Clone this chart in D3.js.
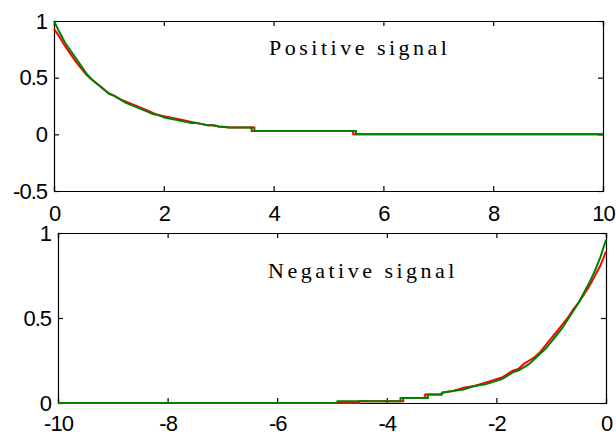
<!DOCTYPE html>
<html>
<head>
<meta charset="utf-8">
<script src="https://cdn.jsdelivr.net/npm/d3@7"></script>
<style>
  body { margin: 0; background: #fff; }
  svg { display: block; }
  .tick text { font-family: "Liberation Sans", Arial, sans-serif; font-size: 22px; letter-spacing: -1px; fill: #000; }
  .title { font-family: "Liberation Serif", "Times New Roman", serif; font-size: 22px; letter-spacing: 3.5px; }
</style>
</head>
<body>
<div id="chart"></div>
<script>
// -------------------- DATA --------------------
// top panel: positive signal (x, y)
const posX = [0,0.1,0.2,0.3,0.4,0.5,0.6,0.7,0.8,0.9,1.0,1.1,1.2,1.3,1.4,1.5,1.6,1.7,1.8,1.9,2.0,2.1,2.2,2.3,2.4,2.5,2.6,2.7,2.8,2.9,3.0,3.2];
const posGreen = [1.00,0.90,0.81,0.74,0.67,0.60,0.53,0.48,0.44,0.40,0.36,0.34,0.31,0.28,0.26,0.24,0.22,0.20,0.18,0.17,0.15,0.14,0.13,0.12,0.11,0.10,0.10,0.09,0.08,0.08,0.07,0.06];
const posRed   = [0.93,0.86,0.78,0.71,0.64,0.58,0.52,0.48,0.44,0.40,0.36,0.34,0.31,0.29,0.27,0.25,0.23,0.21,0.19,0.17,0.16,0.15,0.14,0.13,0.12,0.11,0.10,0.09,0.08,0.08,0.07,0.06];
// flat tail with steps
const posGreenTail = [[3.6,0.03],[5.5,0.0],[10,0.0]];
const posRedTail   = [[3.65,0.03],[5.45,0.0],[10,0.0]];

// bottom panel: negative signal, flat start with steps then rising
const negGreenHeadX = [-10,-4.9,-3.75,-3.25];
const negGreenHead  = [0.00,0.01,0.03,0.05];
const negRedHeadX = [-10,-4.5,-3.7,-3.3];
const negRedHead  = [0.00,0.01,0.03,0.05];

const negX = [-3.0,-2.8,-2.6,-2.4,-2.2,-2.0,-1.9,-1.8,-1.7,-1.6,-1.5,-1.4,-1.3,-1.2,-1.1,-1.0,-0.9,-0.8,-0.7,-0.6,-0.5,-0.4,-0.3,-0.2,-0.1,-0.05,0];
const negGreen = [0.06,0.07,0.08,0.10,0.11,0.13,0.14,0.16,0.18,0.19,0.21,0.23,0.26,0.29,0.32,0.36,0.40,0.44,0.49,0.54,0.59,0.65,0.71,0.78,0.86,0.91,0.96];
const negRed   = [0.06,0.07,0.09,0.10,0.12,0.14,0.15,0.17,0.19,0.20,0.23,0.25,0.27,0.30,0.34,0.38,0.42,0.46,0.50,0.55,0.59,0.64,0.69,0.75,0.81,0.85,0.89];

const topXTicks = [0,2,4,6,8,10];
const topYTicks = [-0.5,0,0.5,1];
const botXTicks = [-10,-8,-6,-4,-2,0];
const botYTicks = [0,0.5,1];

const W = 616, H = 434;

const svg = d3.select("#chart").append("svg")
  .attr("width", W).attr("height", H);

function panel(opt) {
  const x = d3.scaleLinear().domain(opt.xDomain).range([opt.left, opt.right]);
  const y = d3.scaleLinear().domain(opt.yDomain).range([opt.bottom, opt.top]);
  const g = svg.append("g");
  const tl = 5;
  const fmt = d => String(d);

  // ticks point inwards, labels only bottom/left
  g.append("g").attr("transform", `translate(0,${opt.bottom})`)
    .call(d3.axisBottom(x).tickValues(opt.xTicks).tickSize(-tl).tickPadding(opt.xPad).tickFormat(fmt));
  g.append("g").attr("transform", `translate(0,${opt.top})`)
    .call(d3.axisTop(x).tickValues(opt.xTicks).tickSize(-tl).tickFormat(""));
  g.append("g").attr("transform", `translate(${opt.left},0)`)
    .call(d3.axisLeft(y).tickValues(opt.yTicks).tickSize(-tl).tickPadding(7).tickFormat(fmt));
  g.append("g").attr("transform", `translate(${opt.right},0)`)
    .call(d3.axisRight(y).tickValues(opt.yTicks).tickSize(-tl).tickFormat(""));
  g.selectAll(".domain").attr("stroke", "#000").attr("stroke-width", 1.2);
  g.selectAll(".tick line").attr("stroke", "#000").attr("stroke-width", 1.2);

  const smooth = d3.line().x(d => x(d[0])).y(d => y(d[1]));
  const stairs = d3.line().x(d => x(d[0])).y(d => y(d[1])).curve(d3.curveStepAfter);
  opt.series.forEach(s => {
    s.parts.forEach(p => {
      g.append("path").datum(p.pts)
        .attr("fill", "none")
        .attr("stroke", s.color)
        .attr("stroke-width", 2)
        .attr("d", p.step ? stairs : smooth);
    });
  });

  g.append("text").attr("class", "title")
    .attr("x", opt.titleX).attr("y", opt.titleY)
    .text(opt.title);
}

const zip = (xs, ys) => xs.map((v, i) => [v, ys[i]]);

const pg = zip(posX, posGreen), pr = zip(posX, posRed);
const ngH = zip(negGreenHeadX, negGreenHead), nrH = zip(negRedHeadX, negRedHead);
const ng = zip(negX, negGreen), nr = zip(negX, negRed);

panel({
  left: 54, right: 603, top: 21, bottom: 191, xPad: 14,
  xDomain: [0, 10], yDomain: [-0.5, 1],
  xTicks: topXTicks, yTicks: topYTicks,
  title: "Positive signal", titleX: 269, titleY: 55,
  series: [
    { color: "#ff0000", parts: [{ pts: pr }, { step: true, pts: [pr[pr.length - 1]].concat(posRedTail) }] },
    { color: "#008000", parts: [{ pts: pg }, { step: true, pts: [pg[pg.length - 1]].concat(posGreenTail) }] }
  ]
});

panel({
  left: 58, right: 606, top: 233, bottom: 403, xPad: 12,
  xDomain: [-10, 0], yDomain: [0, 1],
  xTicks: botXTicks, yTicks: botYTicks,
  title: "Negative signal", titleX: 268, titleY: 278,
  series: [
    { color: "#ff0000", parts: [{ step: true, pts: nrH.concat([nr[0]]) }, { pts: nr }] },
    { color: "#008000", parts: [{ step: true, pts: ngH.concat([ng[0]]) }, { pts: ng }] }
  ]
});
</script>
</body>
</html>
